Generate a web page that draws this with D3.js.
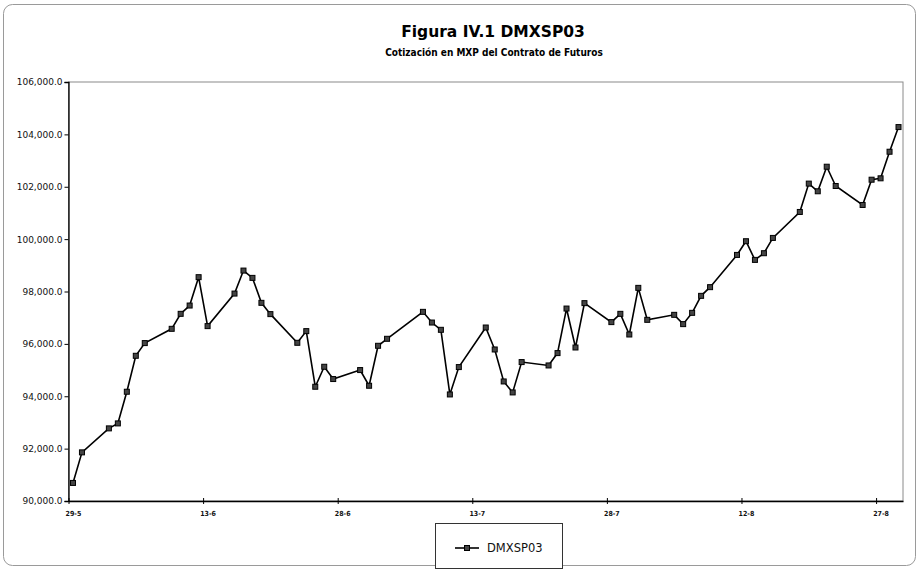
<!DOCTYPE html>
<html><head><meta charset="utf-8">
<script src="https://cdn.jsdelivr.net/npm/d3@7"></script>
<style>body{margin:0;background:#fff}svg{display:block}</style>
</head><body>
<svg id="c" width="920" height="573"></svg>
<script>
const titleText = "Figura IV.1 DMXSP03";
const subtitleText = "Cotización en MXP del Contrato de Futuros";
const seriesName = "DMXSP03";
const dates = ["2003-05-29","2003-05-30","2003-06-02","2003-06-03","2003-06-04","2003-06-05","2003-06-06","2003-06-09","2003-06-10","2003-06-11","2003-06-12","2003-06-13","2003-06-16","2003-06-17","2003-06-18","2003-06-19","2003-06-20","2003-06-23","2003-06-24","2003-06-25","2003-06-26","2003-06-27","2003-06-30","2003-07-01","2003-07-02","2003-07-03","2003-07-07","2003-07-08","2003-07-09","2003-07-10","2003-07-11","2003-07-14","2003-07-15","2003-07-16","2003-07-17","2003-07-18","2003-07-21","2003-07-22","2003-07-23","2003-07-24","2003-07-25","2003-07-28","2003-07-29","2003-07-30","2003-07-31","2003-08-01","2003-08-04","2003-08-05","2003-08-06","2003-08-07","2003-08-08","2003-08-11","2003-08-12","2003-08-13","2003-08-14","2003-08-15","2003-08-18","2003-08-19","2003-08-20","2003-08-21","2003-08-22","2003-08-25","2003-08-26","2003-08-27","2003-08-28","2003-08-29"];
const values = [90690,91857,92773,92963,94172,95545,96030,96575,97147,97464,98547,96678,97921,98799,98520,97567,97136,96041,96487,94363,95126,94657,95000,94401,95927,96194,97223,96815,96537,94069,95114,96625,95786,94565,94146,95305,95176,95648,97349,95862,97555,96831,97147,96358,98139,96918,97109,96754,97185,97834,98166,99397,99920,99207,99462,100046,101037,102120,101827,102765,102029,101304,102269,102322,103337,104279];
const xTickDates = ["2003-05-29","2003-06-13","2003-06-28","2003-07-13","2003-07-28","2003-08-12","2003-08-27"];
const xTickLabels = ["29-5","13-6","28-6","13-7","28-7","12-8","27-8"];
const xDomain = ["2003-05-29","2003-08-30"];
const yTicks = [90000,92000,94000,96000,98000,100000,102000,104000,106000];

const parse = d3.utcParse("%Y-%m-%d");
const svg = d3.select("#c");
const L = 68.5, R = 903, T = 82, B = 501;

// outer chart area
svg.append("rect").attr("x",3.5).attr("y",4.5).attr("width",912).attr("height",561)
  .attr("rx",9).attr("fill","#fff").attr("stroke","#9a9a9a").attr("stroke-width",1);

svg.append("text").attr("x",493).attr("y",37).attr("text-anchor","middle")
  .style("font-family","'DejaVu Sans'").style("font-weight","bold").style("font-size","15.5px")
  .text(titleText);
svg.append("text").attr("x",494).attr("y",56).attr("text-anchor","middle")
  .style("font-family","'DejaVu Sans Condensed','DejaVu Sans'").style("font-weight","bold").style("font-size","10px")
  .text(subtitleText);

const x = d3.scaleUtc().domain(xDomain.map(parse)).range([L, R]);
const y = d3.scaleLinear().domain([90000,106000]).range([B, T]);
const halfDay = (x(parse("2003-05-30")) - x(parse("2003-05-29"))) / 2;

// plot area border
svg.append("rect").attr("x",L).attr("y",T).attr("width",R-L).attr("height",B-T)
  .attr("fill","none").attr("stroke","#8a8a8a").attr("stroke-width",1);

// y axis
const yAxis = svg.append("g").attr("transform",`translate(${L},0)`)
  .call(d3.axisLeft(y).tickValues(yTicks).tickFormat(d3.format(",.1f")).tickSize(4).tickPadding(2));
yAxis.select(".domain").attr("stroke","#000").attr("stroke-width",1.3);
yAxis.selectAll("text").style("font-family","'DejaVu Sans'").style("font-size","9px").attr("fill","#111");

// x axis
const xAxis = svg.append("g").attr("transform",`translate(0,${B})`)
  .call(d3.axisBottom(x).tickValues(xTickDates.map(parse))
    .tickFormat((d,i)=>xTickLabels[i]).tickSize(3).tickSizeOuter(0).tickPadding(7));
xAxis.select(".domain").attr("stroke","#000").attr("stroke-width",1.3);
xAxis.selectAll(".tick line").attr("y1",-3).attr("y2",3);
xAxis.selectAll("text").attr("x",halfDay)
  .style("font-family","'DejaVu Sans Condensed','DejaVu Sans'").style("font-weight","bold").style("font-size","7px").attr("fill","#111");

const pts = dates.map((d,i)=>({d:parse(d), v:values[i]}));
const line = d3.line().x(p=>x(p.d)+halfDay).y(p=>y(p.v));
svg.append("path").datum(pts).attr("d",line).attr("fill","none").attr("stroke","#000").attr("stroke-width",1.6);
svg.append("g").selectAll("rect").data(pts).join("rect")
  .attr("x",p=>x(p.d)+halfDay-2.5).attr("y",p=>y(p.v)-2.5).attr("width",5).attr("height",5)
  .attr("fill","#444").attr("stroke","#000").attr("stroke-width",1);

// legend
const lg = svg.append("g");
lg.append("rect").attr("x",435.5).attr("y",523.5).attr("width",127).attr("height",45)
  .attr("fill","#fff").attr("stroke","#333").attr("stroke-width",1);
lg.append("line").attr("x1",455).attr("x2",479).attr("y1",548).attr("y2",548).attr("stroke","#000").attr("stroke-width",1.6);
lg.append("rect").attr("x",464.5).attr("y",545.5).attr("width",5).attr("height",5).attr("fill","#444").attr("stroke","#000");
lg.append("text").attr("x",487).attr("y",552).style("font-family","'DejaVu Sans'").style("font-size","11.5px").attr("fill","#111").text(seriesName);
</script>
</body></html>
